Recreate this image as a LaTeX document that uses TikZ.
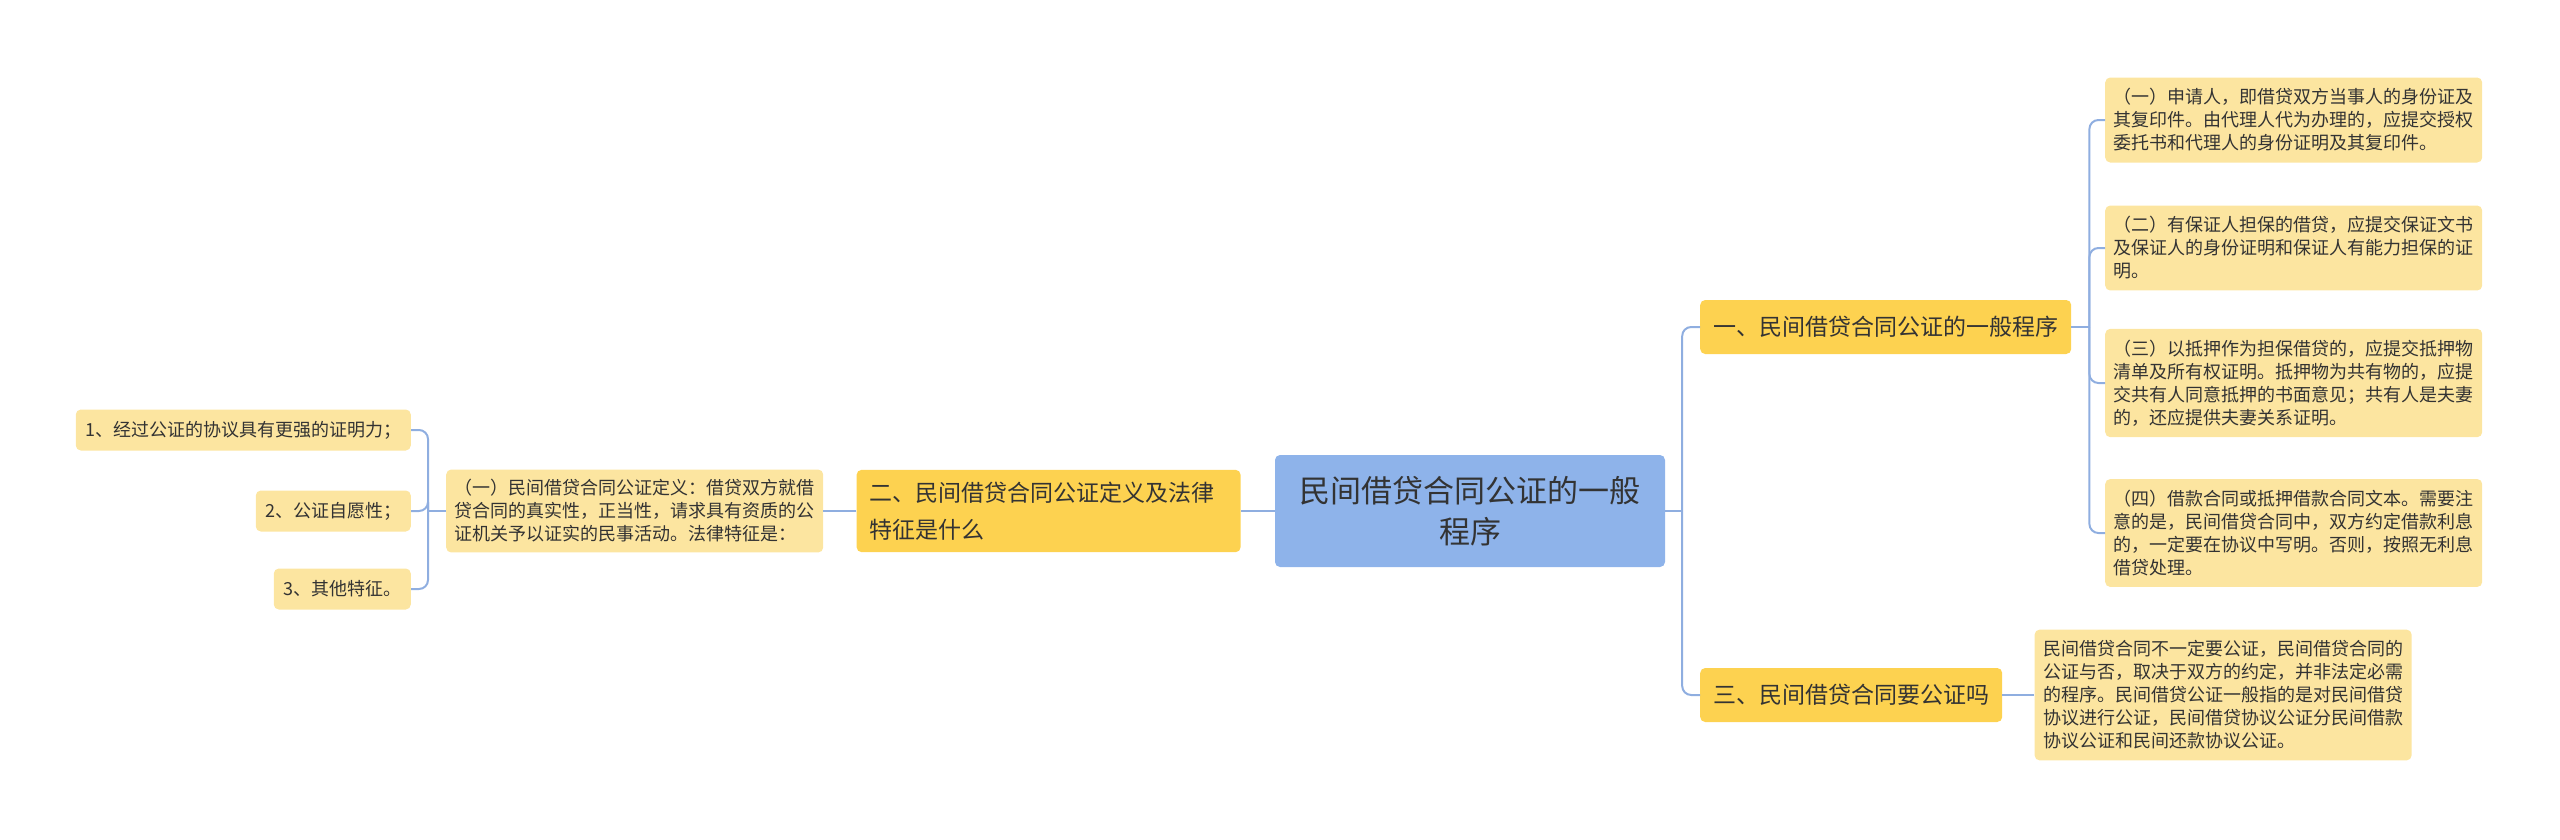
\documentclass[tikz,border=0pt]{standalone}
\usepackage{fontspec}
\usepackage{tikz}
\usetikzlibrary{calc,positioning}
\newfontfamily\zhfont{Noto Sans CJK SC}
\definecolor{rootblue}{RGB}{142,179,234}
\definecolor{branchgold}{RGB}{253,210,80}
\definecolor{leafyellow}{RGB}{252,229,160}
\definecolor{linkblue}{RGB}{143,174,224}
\definecolor{inkgray}{RGB}{51,51,51}
\tikzset{
    % Central topic (blue)
    rootnode/.style={
        rectangle, rounded corners=5pt, fill=rootblue,
        minimum width=390pt, minimum height=112pt, inner sep=0pt,
        align=center, text=inkgray,
        font=\zhfont\fontsize{31}{41}\selectfont
    },
    % First-level branch (gold)
    branchnode/.style={
        rectangle, rounded corners=5pt, fill=branchgold,
        inner xsep=13pt, inner ysep=0pt, minimum height=54pt,
        text=inkgray, font=\zhfont\fontsize{23}{37}\selectfont
    },
    % Leaf with several lines (light yellow)
    leafnode/.style={
        rectangle, rounded corners=5pt, fill=leafyellow,
        text width=360pt, inner xsep=8.5pt, inner ysep=11pt,
        align=left, text=inkgray,
        font=\zhfont\fontsize{18}{23}\selectfont
    },
    % Short one-line leaf
    itemnode/.style={
        rectangle, rounded corners=5pt, fill=leafyellow,
        inner xsep=9.5pt, inner ysep=0pt, minimum height=41pt,
        text=inkgray, font=\zhfont\fontsize{18}{23}\selectfont
    },
    % Connector between topics
    link/.style={draw=linkblue, line width=2pt, rounded corners=9pt},
}

\begin{document}
\begin{tikzpicture}[x=1pt,y=-1pt]
  \useasboundingbox (0,0) rectangle (2560,839);
  % centre and left side
  \node[rootnode] (root) at (1470,511) {民间借贷合同公证的一般\\程序};
  \node[branchnode,align=left,text width=358pt,inner ysep=12pt,left=34pt of root] (two)
    {二、民间借贷合同公证定义及法律\\特征是什么};
  \node[leafnode,inner ysep=10pt,left=33pt of two] (def)
    {（一）民间借贷合同公证定义：借贷双方就借\\贷合同的真实性，正当性，请求具有资质的公\\证机关予以证实的民事活动。法律特征是：};
  \node[itemnode,anchor=east] (item1) at (411,430) {1、经过公证的协议具有更强的证明力；};
  \node[itemnode,anchor=east] (item2) at (411,511) {2、公证自愿性；};
  \node[itemnode,anchor=east] (item3) at (411,589) {3、其他特征。};
  % right side
  \node[branchnode,anchor=west] (one) at (1700,327) {一、民间借贷合同公证的一般程序};
  \node[branchnode,anchor=west] (three) at (1700,695) {三、民间借贷合同要公证吗};
  \node[leafnode,anchor=west] (step1) at (2105,120)
    {（一）申请人，即借贷双方当事人的身份证及\\其复印件。由代理人代为办理的，应提交授权\\委托书和代理人的身份证明及其复印件。};
  \node[leafnode,anchor=west] (step2) at (2105,248)
    {（二）有保证人担保的借贷，应提交保证文书\\及保证人的身份证明和保证人有能力担保的证\\明。};
  \node[leafnode,anchor=west] (step3) at (2105,383)
    {（三）以抵押作为担保借贷的，应提交抵押物\\清单及所有权证明。抵押物为共有物的，应提\\交共有人同意抵押的书面意见；共有人是夫妻\\的，还应提供夫妻关系证明。};
  \node[leafnode,anchor=west] (step4) at (2105,533)
    {（四）借款合同或抵押借款合同文本。需要注\\意的是，民间借贷合同中，双方约定借款利息\\的，一定要在协议中写明。否则，按照无利息\\借贷处理。};
  \node[leafnode,right=32pt of three] (ans)
    {民间借贷合同不一定要公证，民间借贷合同的\\公证与否，取决于双方的约定，并非法定必需\\的程序。民间借贷公证一般指的是对民间借贷\\协议进行公证，民间借贷协议公证分民间借款\\协议公证和民间还款协议公证。};
  % connectors
  \coordinate (jroot) at ([xshift=17pt]root.east);
  \coordinate (jone) at ([xshift=18pt]one.east);
  \coordinate (jdef) at ([xshift=-18pt]def.west);
  \draw[link] (root.east) -- (jroot);
  \draw[link] (jroot) |- (one.west);
  \draw[link] (jroot) |- (three.west);
  \draw[link] (one.east) -- (jone);
  \foreach \s in {step1,step2,step3,step4}
    \draw[link] (jone) |- (\s.west);
  \draw[link] (three.east) -- (ans.west);
  \draw[link] (root.west) -- (two.east);
  \draw[link] (two.west) -- (def.east);
  \draw[link] (def.west) -- (jdef);
  \foreach \i in {item1,item2,item3}
    \draw[link] (jdef) |- (\i.east);
\end{tikzpicture}
\end{document}
